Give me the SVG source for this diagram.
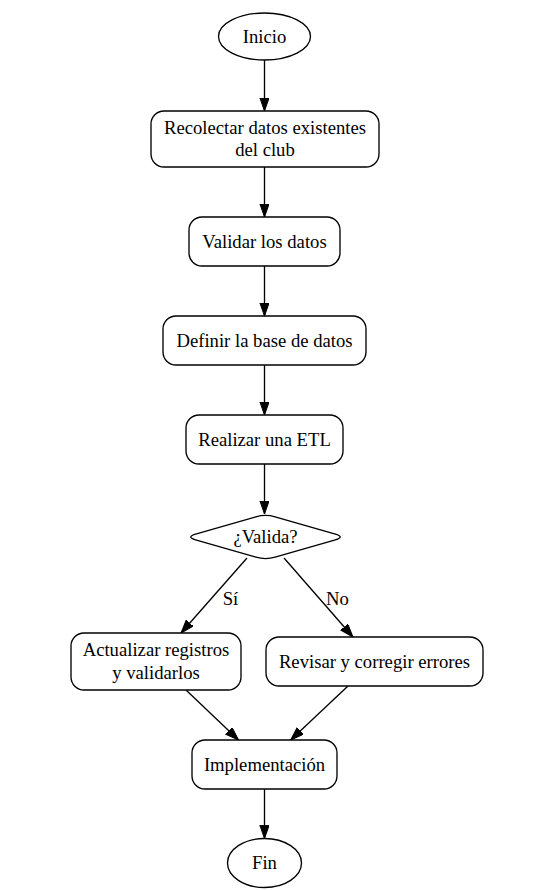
<svg xmlns="http://www.w3.org/2000/svg" width="534" height="890" viewBox="0 0 534 890">
<style>
.n{fill:#ffffff;stroke:#000000;stroke-width:1.33}
.t{font-family:"Liberation Serif","Times New Roman",serif;font-size:18.67px;fill:#000000;text-anchor:middle}
.e{stroke:#000000;stroke-width:1.33;fill:none;marker-end:url(#ah)}
</style>
<defs>
<marker id="ah" markerUnits="userSpaceOnUse" markerWidth="14" markerHeight="10" refX="13.3" refY="4.67" orient="auto">
<path d="M0,0 L13.3,4.67 L0,9.33 Z" fill="#000000" stroke="#000000" stroke-width="1"/>
</marker>
</defs>
<rect width="534" height="890" fill="#ffffff"/>
<g id="connectors">
<line class="e" x1="264.5" y1="60" x2="264.5" y2="111"/>
<line class="e" x1="264.5" y1="167" x2="264.5" y2="217"/>
<line class="e" x1="264.5" y1="266" x2="264.5" y2="316"/>
<line class="e" x1="264.5" y1="365" x2="264.5" y2="415"/>
<line class="e" x1="264.5" y1="464" x2="264.5" y2="514"/>
<line class="e" x1="247" y1="558" x2="181" y2="633"/>
<line class="e" x1="284" y1="558" x2="353" y2="637"/>
<line class="e" x1="186" y1="690" x2="238.5" y2="740"/>
<line class="e" x1="348" y1="686" x2="290.7" y2="740"/>
<line class="e" x1="264.5" y1="789" x2="264.5" y2="838.5"/>
<text class="t" x="230.5" y="605">Sí</text>
<text class="t" x="337.5" y="605">No</text>
</g>
<g id="inicio">
<ellipse class="n" cx="264.5" cy="36.5" rx="46" ry="23.5"/>
<text class="t" x="264.5" y="42.5">Inicio</text>
</g>
<g id="recolectar">
<rect class="n" x="151" y="111" width="228" height="56" rx="13"/>
<text class="t" x="265" y="133.8">Recolectar datos existentes</text>
<text class="t" x="265" y="156">del club</text>
</g>
<g id="validar">
<rect class="n" x="189" y="217" width="151" height="49" rx="13"/>
<text class="t" x="264.5" y="247.5">Validar los datos</text>
</g>
<g id="definir">
<rect class="n" x="163" y="316" width="203" height="49" rx="13"/>
<text class="t" x="264.5" y="346.5">Definir la base de datos</text>
</g>
<g id="etl">
<rect class="n" x="186" y="415" width="157" height="49" rx="13"/>
<text class="t" x="264.5" y="445.5">Realizar una ETL</text>
</g>
<g id="valida">
<path class="n" d="M195.6,534.2 L255.9,516.8 Q265.5,514 275.1,516.8 L335.4,534.2 Q345,537 335.4,539.8 L275.1,557.2 Q265.5,560 255.9,557.2 L195.6,539.8 Q186,537 195.6,534.2 Z"/>
<text class="t" x="265.5" y="543">¿Valida?</text>
</g>
<g id="actualizar">
<rect class="n" x="71" y="633" width="170" height="57" rx="13"/>
<text class="t" x="156" y="656.3">Actualizar registros</text>
<text class="t" x="156" y="678.7">y validarlos</text>
</g>
<g id="revisar">
<rect class="n" x="266" y="637" width="217" height="49" rx="13"/>
<text class="t" x="374.5" y="667.5">Revisar y corregir errores</text>
</g>
<g id="implementacion">
<rect class="n" x="192" y="740" width="145" height="49" rx="13"/>
<text class="t" x="264.5" y="770.5">Implementación</text>
</g>
<g id="fin">
<ellipse class="n" cx="264.5" cy="863" rx="37" ry="24.5"/>
<text class="t" x="264.5" y="869">Fin</text>
</g>
</svg>
